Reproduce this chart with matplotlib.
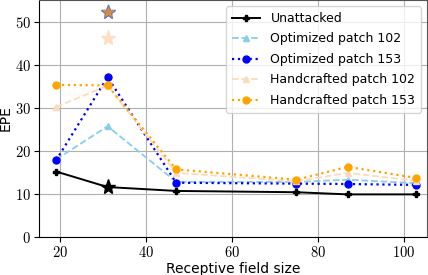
import matplotlib
matplotlib.use("Agg")
import matplotlib.pyplot as plt
import matplotlib.ticker as ticker

plt.rcParams['mathtext.fontset'] = 'cm'
plt.rcParams['font.family'] = 'DejaVu Sans'

# receptive field sizes
rf = [19, 31, 47, 75, 87, 103]

# EPE values per setting
unattacked = [15.2, 11.6, 10.7, 10.4, 9.9, 9.9]
opt_102 = [18.0, 25.7, 12.8, 12.8, 13.3, 12.5]
opt_153 = [17.8, 37.1, 12.6, 12.4, 12.3, 12.1]
hand_102 = [30.2, 35.1, 14.9, 12.9, 14.9, 13.0]
hand_153 = [35.3, 35.2, 15.7, 13.3, 16.3, 13.7]

# highlighted points (star markers) at rf=31
star_x = 31
star_unattacked = 11.6
star_opt_102 = 52.3
star_opt_153 = 52.3
star_hand_102 = 46.1
star_hand_153 = 52.3

fig = plt.figure(figsize=(4.28, 2.75), dpi=100)
ax = fig.add_axes([0.091, 0.138, 0.907, 0.862])

ax.plot(rf, unattacked, color='black', marker='P', markersize=4.5, linewidth=1.4, linestyle='-', label='Unattacked', zorder=5)
ax.plot(rf, opt_102, color='skyblue', marker='^', markersize=5, linewidth=1.3, linestyle='--', label='Optimized patch 102')
ax.plot(rf, opt_153, color='blue', marker='o', markersize=5, linestyle=':', linewidth=1.6, label='Optimized patch 153')
ax.plot(rf, hand_102, color='peachpuff', marker='^', markersize=5, linewidth=1.3, linestyle='--', label='Handcrafted patch 102')
ax.plot(rf, hand_153, color='orange', marker='o', markersize=5, linestyle=':', linewidth=1.6, label='Handcrafted patch 153')

# stars
ax.plot(star_x, star_unattacked, marker='*', color='black', markersize=11, zorder=6)
ax.plot(star_x, star_opt_102, marker='*', color='skyblue', markersize=11, alpha=0.6)
ax.plot(star_x, star_opt_153, marker='*', color='blue', markersize=10, alpha=0.5)
ax.plot(star_x, star_hand_153, marker='*', color='orange', markersize=9, alpha=0.6)
ax.plot(star_x, star_hand_102, marker='*', color='peachpuff', markersize=11, alpha=0.8)

ax.set_xlim(15, 105.5)
ax.set_ylim(0, 55)
ax.xaxis.set_major_locator(ticker.MultipleLocator(20))
ax.yaxis.set_major_locator(ticker.MultipleLocator(10))
ax.xaxis.set_major_formatter(ticker.FuncFormatter(lambda v, p: r'$%d$' % v))
ax.yaxis.set_major_formatter(ticker.FuncFormatter(lambda v, p: r'$%d$' % v))
ax.tick_params(labelsize=10.5, pad=2.5)
ax.grid(True, color='#b0b0b0', linewidth=0.8)

for s in ['top', 'right']:
    ax.spines[s].set_color('#555555')

ax.set_xlabel('Receptive field size', fontsize=10, labelpad=1)
ax.set_ylabel('EPE', fontsize=10)
ax.yaxis.set_label_coords(-0.068, 0.5)
ax.legend(loc='upper right', fontsize=9, handlelength=2.3, labelspacing=0.6, borderpad=0.45)

fig.savefig('out.png', dpi=100)
